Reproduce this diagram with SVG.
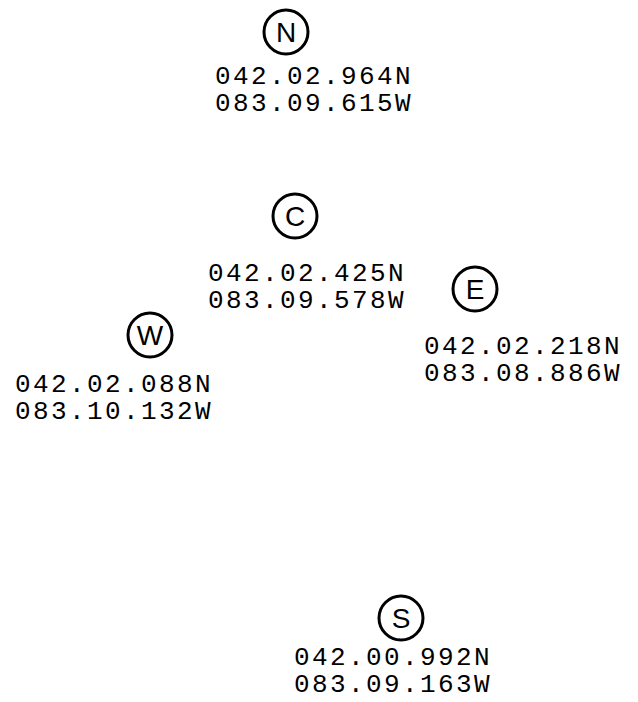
<svg xmlns="http://www.w3.org/2000/svg" width="638" height="702" viewBox="0 0 638 702">
<style>
.ring{fill:none;stroke:#000;stroke-width:3}
.lbl{font-family:"Liberation Sans",Arial,sans-serif;font-size:28px;text-anchor:middle;fill:#000}
.crd{font-family:"Liberation Mono","Courier New",monospace;font-size:26px;letter-spacing:2.4px;text-anchor:middle;fill:#000}
</style>
<rect width="638" height="702" fill="#fff"/>
<g id="connectors"></g>
<g id="node-N">
<circle class="ring" cx="286" cy="32" r="22"/>
<text class="lbl" x="286" y="42">N</text>
<text class="crd" x="314" y="84">042.02.964N</text>
<text class="crd" x="314" y="111">083.09.615W</text>
</g>
<g id="node-C">
<circle class="ring" cx="295" cy="216" r="22"/>
<text class="lbl" x="295" y="226">C</text>
<text class="crd" x="307" y="281">042.02.425N</text>
<text class="crd" x="307" y="308">083.09.578W</text>
</g>
<g id="node-W">
<circle class="ring" cx="150" cy="335" r="22"/>
<text class="lbl" x="150" y="345">W</text>
<text class="crd" x="114" y="392">042.02.088N</text>
<text class="crd" x="114" y="419">083.10.132W</text>
</g>
<g id="node-E">
<circle class="ring" cx="475" cy="289" r="22"/>
<text class="lbl" x="475" y="299">E</text>
<text class="crd" x="523" y="354">042.02.218N</text>
<text class="crd" x="523" y="381">083.08.886W</text>
</g>
<g id="node-S">
<circle class="ring" cx="401" cy="618" r="22"/>
<text class="lbl" x="401" y="628">S</text>
<text class="crd" x="393" y="665">042.00.992N</text>
<text class="crd" x="393" y="692">083.09.163W</text>
</g>
</svg>
